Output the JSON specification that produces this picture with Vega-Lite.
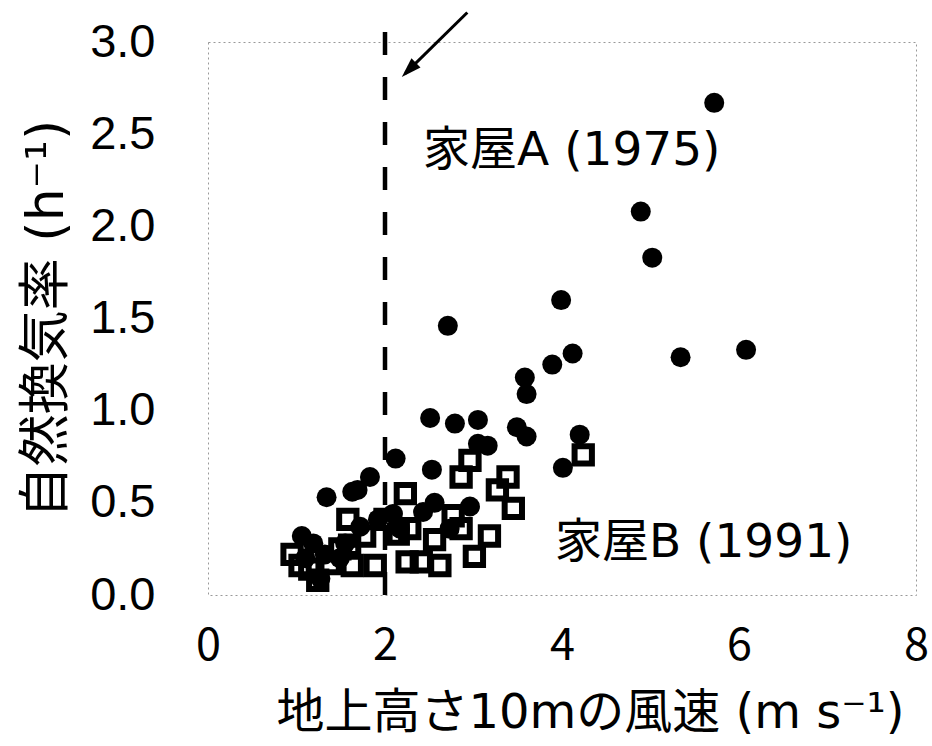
{
  "$schema": "https://vega.github.io/schema/vega-lite/v6.json",
  "width": 708,
  "height": 553,
  "autosize": {"type": "none"},
  "padding": {"left": 208, "top": 42, "right": 16, "bottom": 151},
  "background": "white",
  "config": {
    "view": {"stroke": "#999999", "strokeWidth": 1, "strokeDash": [2, 3]},
    "axis": {"grid": false, "domain": false, "ticks": false, "labelFlush": false, "labelColor": "#000000", "titleColor": "#000000", "titleFontWeight": "normal"}
  },
  "datasets": {
    "houseA": [
      {"wind": 5.72, "ach": 2.67}, {"wind": 4.89, "ach": 2.08}, {"wind": 5.02, "ach": 1.83},
      {"wind": 3.99, "ach": 1.60}, {"wind": 2.71, "ach": 1.46}, {"wind": 4.12, "ach": 1.31},
      {"wind": 3.89, "ach": 1.25}, {"wind": 5.34, "ach": 1.29}, {"wind": 6.08, "ach": 1.33},
      {"wind": 3.58, "ach": 1.18}, {"wind": 3.60, "ach": 1.09}, {"wind": 2.51, "ach": 0.96},
      {"wind": 2.79, "ach": 0.93}, {"wind": 3.05, "ach": 0.95}, {"wind": 3.49, "ach": 0.91},
      {"wind": 3.60, "ach": 0.86}, {"wind": 4.20, "ach": 0.87}, {"wind": 3.05, "ach": 0.82},
      {"wind": 3.16, "ach": 0.81}, {"wind": 2.12, "ach": 0.74}, {"wind": 2.53, "ach": 0.68},
      {"wind": 4.01, "ach": 0.69}, {"wind": 1.83, "ach": 0.64}, {"wind": 1.69, "ach": 0.57},
      {"wind": 1.63, "ach": 0.56}, {"wind": 1.34, "ach": 0.53}, {"wind": 2.56, "ach": 0.50},
      {"wind": 2.96, "ach": 0.48}, {"wind": 2.43, "ach": 0.45}, {"wind": 2.09, "ach": 0.44},
      {"wind": 1.92, "ach": 0.41}, {"wind": 1.72, "ach": 0.37}, {"wind": 2.17, "ach": 0.36},
      {"wind": 2.73, "ach": 0.36}, {"wind": 1.55, "ach": 0.28}, {"wind": 1.06, "ach": 0.32},
      {"wind": 1.19, "ach": 0.28}, {"wind": 1.32, "ach": 0.22}, {"wind": 1.10, "ach": 0.20},
      {"wind": 1.27, "ach": 0.09}, {"wind": 1.49, "ach": 0.20}
    ],
    "houseB": [
      {"wind": 4.24, "ach": 0.76}, {"wind": 2.96, "ach": 0.73}, {"wind": 2.86, "ach": 0.64},
      {"wind": 3.39, "ach": 0.64}, {"wind": 3.27, "ach": 0.57}, {"wind": 3.45, "ach": 0.47},
      {"wind": 2.23, "ach": 0.55}, {"wind": 1.58, "ach": 0.41}, {"wind": 2.77, "ach": 0.43},
      {"wind": 2.86, "ach": 0.36}, {"wind": 3.18, "ach": 0.32}, {"wind": 3.01, "ach": 0.21},
      {"wind": 2.62, "ach": 0.16}, {"wind": 2.25, "ach": 0.18}, {"wind": 2.41, "ach": 0.18},
      {"wind": 1.63, "ach": 0.16}, {"wind": 1.89, "ach": 0.16}, {"wind": 1.04, "ach": 0.16},
      {"wind": 1.24, "ach": 0.08}, {"wind": 0.95, "ach": 0.22}, {"wind": 1.60, "ach": 0.27},
      {"wind": 1.77, "ach": 0.32}, {"wind": 2.00, "ach": 0.41}, {"wind": 2.15, "ach": 0.33},
      {"wind": 1.49, "ach": 0.25}, {"wind": 2.28, "ach": 0.36}, {"wind": 2.56, "ach": 0.30},
      {"wind": 1.38, "ach": 0.17}, {"wind": 1.15, "ach": 0.14}
    ],
    "threshold": [{"wind": 2, "ach": 0, "ach2": 3.1}],
    "arrow": [{"wind": 2.93, "ach": 3.16, "wind2": 2.23, "ach2": 2.83}],
    "arrowhead": [{"wind": 2.19, "ach": 2.81}],
    "labels": [
      {"wind": 2.43, "ach": 2.41, "text": "家屋A (1975)"},
      {"wind": 3.92, "ach": 0.28, "text": "家屋B (1991)"}
    ]
  },
  "layer": [
    {
      "data": {"name": "threshold"},
      "mark": {"type": "rule", "color": "#000000", "strokeWidth": 4.5, "strokeDash": [23, 22], "clip": false},
      "encoding": {
        "x": {"field": "wind", "type": "quantitative", "scale": {"domain": [0, 8], "nice": false, "zero": false},
              "axis": {"values": [0, 2, 4, 6, 8], "format": "d", "labelFont": "Noto Sans CJK JP", "labelFontSize": 45, "labelPadding": 28,
                       "title": "地上高さ10mの風速 (m s⁻¹)", "titleFont": "DejaVu Sans, Noto Sans CJK JP", "titleFontSize": 48, "titlePadding": 21,
                       "titleX": 382, "titleAlign": "center"}},
        "y": {"field": "ach", "type": "quantitative", "scale": {"domain": [0, 3], "nice": false},
              "axis": {"values": [0, 0.5, 1, 1.5, 2, 2.5, 3], "format": ".1f", "labelFont": "Liberation Sans", "labelFontSize": 47, "labelPadding": 53,
                       "title": "自然換気率 (h⁻¹)", "titleFont": "DejaVu Sans, Noto Sans CJK JP", "titleFontSize": 52, "titlePadding": 16}},
        "y2": {"field": "ach2"}
      }
    },
    {
      "data": {"name": "arrow"},
      "mark": {"type": "rule", "color": "#000000", "strokeWidth": 3, "clip": false},
      "encoding": {
        "x": {"field": "wind", "type": "quantitative"},
        "y": {"field": "ach", "type": "quantitative"},
        "x2": {"field": "wind2"},
        "y2": {"field": "ach2"}
      }
    },
    {
      "data": {"name": "arrowhead"},
      "mark": {"type": "point", "shape": "M0,0L-0.32,1L0.32,1Z", "filled": true, "color": "#000000", "opacity": 1, "size": 1600, "angle": 225, "clip": false},
      "encoding": {
        "x": {"field": "wind", "type": "quantitative"},
        "y": {"field": "ach", "type": "quantitative"}
      }
    },
    {
      "data": {"name": "houseA"},
      "mark": {"type": "point", "shape": "circle", "filled": true, "color": "#000000", "opacity": 1, "size": 400},
      "encoding": {
        "x": {"field": "wind", "type": "quantitative"},
        "y": {"field": "ach", "type": "quantitative"}
      }
    },
    {
      "data": {"name": "houseB"},
      "mark": {"type": "point", "shape": "square", "filled": false, "fill": null, "stroke": "#000000", "strokeWidth": 6, "opacity": 1, "size": 300},
      "encoding": {
        "x": {"field": "wind", "type": "quantitative"},
        "y": {"field": "ach", "type": "quantitative"}
      }
    },
    {
      "data": {"name": "labels"},
      "mark": {"type": "text", "font": "DejaVu Sans, Noto Sans CJK JP", "fontSize": 47, "align": "left", "baseline": "middle", "color": "#000000"},
      "encoding": {
        "x": {"field": "wind", "type": "quantitative"},
        "y": {"field": "ach", "type": "quantitative"},
        "text": {"field": "text"}
      }
    }
  ]
}
